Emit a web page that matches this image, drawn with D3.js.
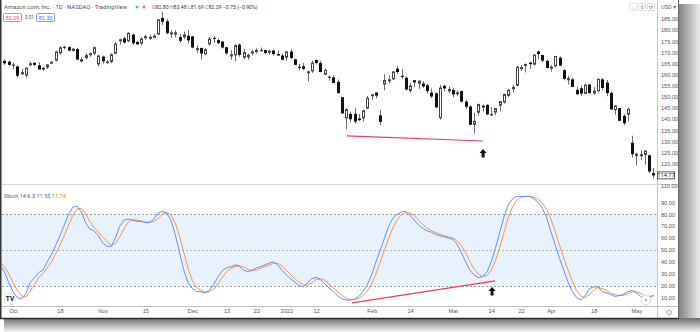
<!DOCTYPE html>
<html lang="en">
<head>
<meta charset="UTF-8">
<title>Amazon.com, Inc. - Stoch</title>
<script src="https://cdnjs.cloudflare.com/ajax/libs/d3/7.8.5/d3.min.js"></script>
<style>
  html, body { margin: 0; padding: 0; background: #fff; }
  svg { display: block; font-family: Roboto, "Liberation Sans", Arial, sans-serif; }
  .axis text { fill: #555; }
</style>
</head>
<body>
<svg id="chart" width="700" height="332"></svg>
<script>
// bar numbers: 0 = 1 Oct 2021, 146 = 2 May 2022 (trading days)
var firstBar = -3;

var openP = [167.4,166.2,165.8,164.5,163.7,160.2,159.6,164.3,165.3,164.2,163.0,163.2,165.6,166.3,169.6,172.5,172.5,170.6,171.5,166.8,
  167.4,169.2,169.4,164.6,168.1,165.8,165.7,169.4,175.0,176.3,175.0,178.0,174.7,174.0,176.9,177.0,177.3,178.0,185.5,184.0,
  178.2,178.0,176.9,176.8,177.5,177.2,171.6,172.0,169.2,173.6,176.5,175.5,174.9,172.3,168.5,168.7,173.5,167.6,167.8,169.9,
  170.3,171.0,171.1,170.2,170.8,169.3,168.6,167.6,170.4,166.9,163.5,163.8,160.6,161.5,166.6,165.3,160.0,159.1,158.8,156.8,
  149.9,140.4,142.4,142.4,140.3,140.4,144.8,151.0,152.0,141.7,155.6,157.2,157.9,162.7,159.5,158.6,152.7,157.5,155.9,156.0,
  155.3,151.9,151.6,140.5,155.0,152.5,153.1,151.5,152.6,147.9,145.7,137.5,142.9,146.0,146.4,142.2,143.0,146.1,147.5,150.5,
  153.5,155.0,162.6,164.0,165.4,164.5,170.4,168.8,166.2,163.6,163.8,167.6,162.0,158.0,157.9,153.2,153.9,151.4,155.6,151.5,
  152.6,157.9,156.4,151.8,144.1,145.0,141.5,142.0,129.4,123.5,123.8,124.0,123.8,115.8];
var highP = [167.6,166.8,166.4,165.5,164.2,162.6,163.3,165.8,165.6,165.6,163.4,164.7,166.0,170.5,172.8,173.0,172.7,172.1,172.0,167.7,
  169.7,170.0,172.7,168.9,168.6,166.6,169.6,174.6,176.2,177.0,179.0,178.5,175.3,176.8,178.0,178.0,178.4,185.0,188.1,184.9,
  180.0,180.0,178.3,179.3,180.0,177.3,173.2,172.1,172.0,176.9,177.4,176.3,175.0,172.5,171.0,173.6,174.0,171.5,169.5,171.2,
  171.8,172.2,171.2,171.3,171.2,170.9,169.4,170.7,171.4,167.1,164.8,165.2,161.7,166.3,166.9,166.2,162.8,159.6,159.8,157.8,
  150.0,145.1,143.4,145.0,142.3,144.0,150.4,151.2,152.0,144.0,160.3,159.7,161.8,163.8,162.5,159.2,156.2,157.5,157.4,157.1,
  155.8,153.8,152.0,155.4,155.5,154.7,154.0,152.9,152.9,148.7,146.3,142.9,147.0,146.5,146.9,145.5,145.1,148.2,151.4,153.5,
  155.4,164.0,164.4,165.0,165.8,169.2,170.8,169.0,166.7,164.3,168.4,168.2,162.6,159.4,158.4,154.5,155.2,156.0,155.8,154.4,
  158.4,158.5,157.6,152.3,146.3,145.0,142.3,145.2,132.6,125.0,126.1,126.2,124.0,118.0];
var lowP = [165.2,164.4,164.0,162.5,158.9,159.8,158.7,163.9,163.9,162.3,161.7,162.6,164.7,165.9,169.0,171.3,170.5,170.3,166.5,165.4,
  166.8,168.0,168.8,163.7,165.0,164.7,165.3,169.3,173.5,174.0,174.6,173.3,173.4,173.2,175.7,175.6,176.6,177.8,182.3,178.2,
  176.5,176.7,174.3,176.0,174.1,171.8,169.8,166.8,168.7,173.1,174.2,173.7,171.7,168.9,166.7,166.0,168.0,167.0,166.8,168.6,
  169.5,170.4,169.1,169.0,168.6,168.5,166.6,166.2,167.0,164.4,161.9,162.0,156.9,160.8,164.6,161.0,159.7,157.3,156.3,151.6,
  142.6,135.4,138.7,137.9,139.2,139.0,144.5,148.6,149.4,137.3,153.0,156.2,157.5,160.3,158.1,153.0,151.9,154.4,153.6,154.1,
  151.4,149.5,145.0,139.8,152.5,151.6,149.8,150.5,147.5,144.5,137.4,133.5,141.6,143.5,141.8,141.4,141.8,143.5,147.0,150.0,
  152.0,154.8,161.6,161.0,162.6,164.2,167.0,165.6,162.9,161.4,163.2,163.8,157.5,155.6,154.4,150.9,150.6,151.2,151.5,151.0,
  152.2,153.0,150.3,144.1,142.0,139.2,137.3,139.0,122.8,119.2,121.6,119.6,115.8,113.4];
var closeP = [165.8,165.1,164.3,164.2,159.5,161.1,163.1,165.1,164.4,162.3,162.4,164.6,165.8,170.4,172.3,172.3,170.8,171.7,166.8,166.0,
  168.8,169.6,172.3,168.6,166.0,165.6,169.2,173.9,175.9,174.4,178.8,174.1,173.6,176.3,177.3,177.0,177.5,184.8,183.8,178.6,
  179.0,179.0,175.2,178.1,175.4,172.2,171.9,169.5,171.4,176.2,176.2,174.2,172.2,169.6,169.1,173.3,168.9,170.1,168.9,170.4,
  171.1,170.9,169.7,170.7,169.2,168.6,166.7,170.4,167.5,164.4,163.3,162.6,161.5,165.4,165.2,161.2,162.1,158.9,156.3,151.7,
  142.6,144.5,140.0,138.9,139.6,144.0,149.6,151.2,150.6,138.8,157.6,157.9,161.4,161.2,159.0,153.3,155.2,156.5,157.3,154.7,
  152.6,150.2,145.3,154.2,153.8,153.6,151.1,152.1,147.9,145.6,137.5,139.3,146.8,145.3,142.2,141.8,145.0,148.1,151.3,153.2,
  154.5,163.6,163.4,164.8,164.7,169.0,169.3,166.3,163.0,163.6,168.4,164.1,158.1,158.4,154.5,151.2,151.5,155.5,151.7,152.8,
  158.1,154.0,151.7,144.4,146.1,139.3,138.2,144.6,124.3,124.5,124.3,125.9,116.5,114.77];

// Stoch 14 6 3
var stochK = [37.5,31.7,22.5,15,10,9,13,22.5,26.7,31,33,40,46,54,62,71,80,86,87,82,
  73,67.5,66,62,56,53,53,60,70,75,76,75,74,74,73,73,76,81,82.5,81,
  75,63,48,33,22.5,17.5,15,15,14,16,21,27.5,32.5,35,36,37.5,36.7,33,31.7,33,
  35,36,37.5,39,40,37.5,33,29,26,23,20,19,22.5,26,27,25,21.7,18,15,11.7,
  9,8,8,9,11,15,21,29,40,50,60,70,77,80,82,82.5,79,75,71,68,
  66,65,63,62,61,60,59,55,48,40,33,29,26.7,27.5,31.7,40,51.7,65,78,88,
  93,95,95,95,95,93,90,85,77,65,54,43,33,23,15,10,8,11.7,17.5,19,
  19,15,14,12.5,11,11.7,13,15,16,14,11,9,11,11.55];
var stochD = [40,36,30,23,16,11.5,10.5,15,20.5,27,30,35,40,47,54,62,71,79,84.5,85,
  80.5,74,69,65,61,57,54,55.5,61,68,73.5,75.5,75,74.5,73.5,73.5,74,76.5,80,81.5,
  79.5,73,62,48,34.5,24.5,18.5,16,14.5,15,17,21.5,27,31.5,34.5,36,36.7,35.7,33.8,32.6,
  33.2,34.7,36.2,37.5,38.8,38.8,36.8,33,29.3,26,23,20.7,20.5,22.5,25.2,26,24.6,21.6,18.2,15,
  12,9.6,8.3,8.3,9.3,11.7,15.7,21.7,30,39.7,50,60,69,75.7,79.7,81.5,81.2,78.8,75,71.3,
  68.3,66.3,64.7,63.3,62,61,60,58,54,47.7,40.3,34,29.6,27.7,28.6,33,41.1,52.2,64.9,77,
  86.3,92,94.3,95,95,94.3,92.7,89.3,84,75.7,65.3,54,43.3,33,23.7,16,11,9.9,12.4,16.1,
  18.5,17.7,16,13.8,12.5,11.7,11.9,13.2,14.7,15,13.7,11.3,10.3,11.74];

var timeTickBars = [0, 11, 21, 31, 42, 50, 57, 64, 71, 84, 93, 103, 112, 119, 126, 136, 146];
var timeTickText = ["Oct", "18", "Nov", "15", "Dec", "13", "22", "2022", "12", "Feb", "14", "Mar", "14", "22", "Apr", "18", "May"];
var priceTicks = [110, 120, 125, 130, 135, 140, 145, 150, 155, 160, 165, 170, 175, 180, 185];
var stochTicks = [10, 20, 30, 40, 50, 60, 70, 80, 90];
var stochLevels = [80, 50, 20];

// hand drawn marks on the chart: [bar, value]
var priceTrend = [[78.2, 132.5], [110.1, 130.2]];
var stochTrend = [[79.4, 5.5], [112.9, 24]];
var priceArrow = [110.1, 126.6];
var stochArrow = [112.2, 19];

var lastPrice = 114.77;

var svg = d3.select("#chart");
var W = 678, H = 318;
var axisX = 657;
var priceTop = 0, priceBottom = 184;
var stochTop = 185, stochBottom = 306;

var x = d3.scaleLinear().domain([0, 146]).range([13, 636.4]);
var y = d3.scaleLinear().domain([110, 185]).range([186, 19]);
var ys = d3.scaleLinear().domain([20, 80]).range([285.7, 214.3]);

var bars = d3.range(openP.length).map(function (j) {
  return { i: j + firstBar, o: openP[j], h: highP[j], l: lowP[j], c: closeP[j], k: stochK[j], d: stochD[j] };
});

var defs = svg.append("defs");
var gr = defs.append("linearGradient").attr("id", "shR").attr("x1", 0).attr("x2", 1).attr("y1", 0).attr("y2", 0);
gr.append("stop").attr("offset", 0).attr("stop-color", "#7e7e7e");
gr.append("stop").attr("offset", 1).attr("stop-color", "#ececec");
var gb = defs.append("linearGradient").attr("id", "shB").attr("x1", 0).attr("x2", 0).attr("y1", 0).attr("y2", 1);
gb.append("stop").attr("offset", 0).attr("stop-color", "#6f6f6f");
gb.append("stop").attr("offset", 1).attr("stop-color", "#f4f4f4");
defs.append("clipPath").attr("id", "clipP").append("rect").attr("x", 2).attr("y", priceTop).attr("width", axisX - 2).attr("height", priceBottom - priceTop);
defs.append("clipPath").attr("id", "clipS").append("rect").attr("x", 2).attr("y", stochTop).attr("width", axisX - 2).attr("height", stochBottom - stochTop);

// shadow and frame
svg.append("rect").attr("x", 0).attr("y", 0).attr("width", 700).attr("height", 332).attr("fill", "#fff");
svg.append("rect").attr("x", W).attr("y", 4).attr("width", 700 - W).attr("height", 328).attr("fill", "url(#shR)");
svg.append("rect").attr("x", 4).attr("y", H).attr("width", 696).attr("height", 332 - H).attr("fill", "url(#shB)");
svg.append("rect").attr("x", 0).attr("y", 0).attr("width", W).attr("height", H).attr("fill", "#fff");

// stoch band and levels
var sp = svg.append("g").attr("clip-path", "url(#clipS)");
sp.append("rect").attr("x", 2).attr("width", axisX - 2)
  .attr("y", ys(80)).attr("height", ys(20) - ys(80)).attr("fill", "#e8f2fd");
sp.selectAll("line.lvl").data(stochLevels).enter().append("line")
  .attr("x1", 2).attr("x2", axisX).attr("y1", function (d) { return Math.round(ys(d)) + 0.5; })
  .attr("y2", function (d) { return Math.round(ys(d)) + 0.5; })
  .attr("stroke", function (d) { return d == 50 ? "#b4b4b4" : "#9e9e9e"; })
  .attr("stroke-dasharray", "2,2");

sp.append("path").datum(bars)
  .attr("d", d3.line().x(function (b) { return x(b.i); }).y(function (b) { return ys(b.d); }))
  .attr("fill", "none").attr("stroke", "#f5883a").attr("stroke-width", 0.9);
sp.append("path").datum(bars)
  .attr("d", d3.line().x(function (b) { return x(b.i); }).y(function (b) { return ys(b.k); }))
  .attr("fill", "none").attr("stroke", "#5282f5").attr("stroke-width", 0.9);

sp.append("line")
  .attr("x1", x(stochTrend[0][0])).attr("y1", ys(stochTrend[0][1]))
  .attr("x2", x(stochTrend[1][0])).attr("y2", ys(stochTrend[1][1]))
  .attr("stroke", "#ee3a63").attr("stroke-width", 1.2);

function upArrow(g, cx, tip) {
  var p = [[cx, tip], [cx + 3.5, tip + 4], [cx + 1.5, tip + 4], [cx + 1.5, tip + 8.5],
           [cx - 1.5, tip + 8.5], [cx - 1.5, tip + 4], [cx - 3.5, tip + 4]];
  g.append("path").attr("d", "M" + p.join("L") + "Z").attr("fill", "#111");
}
upArrow(sp, x(stochArrow[0]), ys(stochArrow[1]));

// candles
var pp = svg.append("g").attr("clip-path", "url(#clipP)");
var cg = pp.selectAll("g.c").data(bars).enter().append("g");
cg.append("line")
  .attr("x1", function (b) { return Math.round(x(b.i)) + 0.5; })
  .attr("x2", function (b) { return Math.round(x(b.i)) + 0.5; })
  .attr("y1", function (b) { return y(b.h); }).attr("y2", function (b) { return y(b.l); })
  .attr("stroke", "#6d6d6d").attr("stroke-width", 1);
cg.append("rect")
  .attr("x", function (b) { return Math.round(x(b.i)) - (b.c >= b.o ? 0.5 : 1); })
  .attr("width", function (b) { return b.c >= b.o ? 2 : 3; })
  .attr("y", function (b) { return y(Math.max(b.o, b.c)) + (b.c >= b.o ? 0.5 : 0); })
  .attr("height", function (b) { return Math.max(1, Math.abs(y(b.o) - y(b.c)) - (b.c >= b.o ? 1 : 0)); })
  .attr("fill", function (b) { return b.c >= b.o ? "#fff" : "#111"; })
  .attr("stroke", function (b) { return b.c >= b.o ? "#444" : "none"; })
  .attr("stroke-width", 1);

pp.append("line")
  .attr("x1", x(priceTrend[0][0])).attr("y1", y(priceTrend[0][1]))
  .attr("x2", x(priceTrend[1][0])).attr("y2", y(priceTrend[1][1]))
  .attr("stroke", "#ee3a63").attr("stroke-width", 1.2);
upArrow(pp, x(priceArrow[0]), y(priceArrow[1]));

// separators
svg.append("line").attr("x1", 2).attr("x2", W).attr("y1", 184.5).attr("y2", 184.5).attr("stroke", "#d6d6d6");
svg.append("line").attr("x1", axisX + 0.5).attr("x2", axisX + 0.5).attr("y1", 0).attr("y2", H).attr("stroke", "#c8c8c8");
svg.append("line").attr("x1", 2).attr("x2", W).attr("y1", stochBottom + 0.5).attr("y2", stochBottom + 0.5).attr("stroke", "#bdbdbd");

// price axis
var pa = svg.append("g").attr("class", "axis").attr("transform", "translate(" + (axisX + 4) + ",0)")
  .call(d3.axisRight(y).tickValues(priceTicks).tickFormat(d3.format(".2f")).tickSize(0).tickPadding(0));
pa.select(".domain").remove();
pa.selectAll("text").attr("font-size", 5.6);

svg.append("rect").attr("x", axisX + 0.5).attr("y", y(lastPrice) - 3.5).attr("width", 17).attr("height", 7)
  .attr("fill", "#fff").attr("stroke", "#333").attr("stroke-width", 0.8);
svg.append("text").attr("x", axisX + 9).attr("y", y(lastPrice)).attr("dy", "0.35em")
  .attr("text-anchor", "middle").attr("font-size", 5.6).attr("fill", "#222").text(d3.format(".2f")(lastPrice));

svg.append("text").attr("x", axisX + 4).attr("y", 7).attr("dy", "0.35em").attr("font-size", 5.6).attr("fill", "#666").text("USD ▾");

// stoch axis
var sa = svg.append("g").attr("class", "axis").attr("transform", "translate(" + (axisX + 4) + ",0)")
  .call(d3.axisRight(ys).tickValues(stochTicks).tickFormat(d3.format(".2f")).tickSize(0).tickPadding(0));
sa.select(".domain").remove();
sa.selectAll("text").attr("font-size", 5.6);

// time axis
var ta = svg.append("g").attr("class", "axis").attr("transform", "translate(0," + (stochBottom + 3) + ")")
  .call(d3.axisBottom(x).tickValues(timeTickBars).tickFormat(function (d, k) { return timeTickText[k]; }).tickSize(0).tickPadding(0));
ta.select(".domain").remove();
ta.selectAll("text").attr("font-size", 5.6).attr("dy", "0.71em");

// legends
var hd = svg.append("g").attr("font-size", 5.9);
hd.append("text").attr("x", 4).attr("y", 9).attr("fill", "#555").text("Amazon.com, Inc. · 1D · NASDAQ · TradingView");
hd.append("circle").attr("cx", 137).attr("cy", 7).attr("r", 2.6).attr("fill", "#d9f2e6");
hd.append("circle").attr("cx", 137).attr("cy", 7).attr("r", 1.1).attr("fill", "#26a69a");
hd.append("circle").attr("cx", 144).attr("cy", 7).attr("r", 2.6).attr("fill", "#fbdde4");
hd.append("circle").attr("cx", 144).attr("cy", 7).attr("r", 1.1).attr("fill", "#ef5350");
var ohlc = hd.append("text").attr("x", 152).attr("y", 9).attr("font-size", 5.2).attr("fill", "#444");
[["O", "82.80 "], ["H", "83.48 "], ["L", "81.69 "], ["C", "82.29 "], ["", "−0.75 (−0.90%)"]].forEach(function (p) {
  ohlc.append("tspan").attr("fill", "#777").text(p[0]);
  ohlc.append("tspan").attr("fill", "#333").text(p[1]);
});

hd.append("rect").attr("x", 3.5).attr("y", 13.5).attr("width", 18).attr("height", 8).attr("rx", 1)
  .attr("fill", "#fff").attr("stroke", "#ef5a73").attr("stroke-width", 0.8);
hd.append("text").attr("x", 12.5).attr("y", 19.6).attr("text-anchor", "middle").attr("font-size", 5.4).attr("fill", "#e9445e").text("82.29");
hd.append("text").attr("x", 25).attr("y", 19.4).attr("font-size", 4.6).attr("fill", "#555").text("0.01");
hd.append("rect").attr("x", 36.5).attr("y", 13.5).attr("width", 18).attr("height", 8).attr("rx", 1)
  .attr("fill", "#fff").attr("stroke", "#5b86f2").attr("stroke-width", 0.8);
hd.append("text").attr("x", 45.5).attr("y", 19.6).attr("text-anchor", "middle").attr("font-size", 5.4).attr("fill", "#3d6fe9").text("82.30");

var sl = svg.append("text").attr("x", 4).attr("y", 198).attr("font-size", 5.6);
sl.append("tspan").attr("fill", "#555").text("Stoch 14 6 3  ");
sl.append("tspan").attr("fill", "#3f72f0").text(d3.format(".2f")(stochK[stochK.length - 1]) + " ");
sl.append("tspan").attr("fill", "#f27a20").text(d3.format(".2f")(stochD[stochD.length - 1]));

// small buttons
[630, 639, 648].forEach(function (bx, k) {
  svg.append("rect").attr("x", bx - 0.5).attr("y", 3.5).attr("width", 7).attr("height", 7).attr("rx", 1)
    .attr("fill", "#fff").attr("stroke", "#d0d0d0").attr("stroke-width", 0.7);
  svg.append("text").attr("x", bx + 3).attr("y", 8.8).attr("text-anchor", "middle").attr("font-size", 5).attr("fill", "#666")
    .text(["↓", "⇕", "⟳"][k]);
});
svg.append("circle").attr("cx", 10).attr("cy", 299).attr("r", 5.8).attr("fill", "#fff").attr("stroke", "#e6e6e6");
svg.append("text").attr("x", 10).attr("y", 301.3).attr("text-anchor", "middle").attr("font-size", 6.5)
  .attr("font-weight", "bold").attr("fill", "#131722").text("TV");
svg.append("circle").attr("cx", 646).attr("cy", 300).attr("r", 5).attr("fill", "#fff").attr("stroke", "#d8d8d8");
svg.append("text").attr("x", 646).attr("y", 302).attr("text-anchor", "middle").attr("font-size", 6).attr("fill", "#555").text("»");
svg.append("circle").attr("cx", 669).attr("cy", 312.5).attr("r", 2.2).attr("fill", "none").attr("stroke", "#666").attr("stroke-width", 1)
  .attr("stroke-dasharray", "1.2,0.6");

// borders
svg.append("line").attr("x1", 0.75).attr("x2", 0.75).attr("y1", 0).attr("y2", H + 1).attr("stroke", "#333").attr("stroke-width", 1.5);
svg.append("line").attr("x1", 0).attr("x2", W + 1).attr("y1", H + 0.5).attr("y2", H + 0.5).attr("stroke", "#2a2a2a").attr("stroke-width", 1.5);
svg.append("line").attr("x1", W + 0.5).attr("x2", W + 0.5).attr("y1", 0).attr("y2", H).attr("stroke", "#666").attr("stroke-width", 1);
</script>
</body>
</html>
